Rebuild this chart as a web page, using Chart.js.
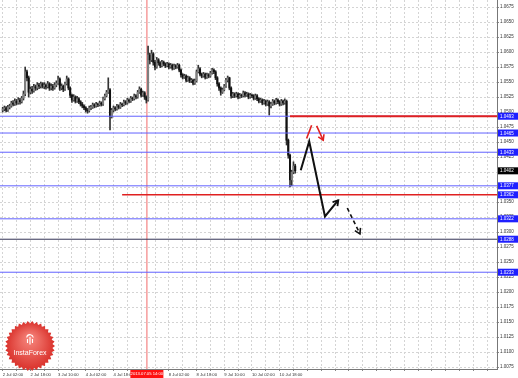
<!DOCTYPE html>
<html>
<head>
<meta charset="utf-8">
<script src="https://cdn.jsdelivr.net/npm/chart.js@4.4.1/dist/chart.umd.min.js"></script>
<style>
  html, body { margin: 0; padding: 0; background: #fff; }
  canvas { display: block; }
</style>
</head>
<body>
<canvas id="chart" width="518" height="378"></canvas>
<script>
// H1 candles, index 0 = 2 Jul 02:00
var opens = [
  1.0503,1.0505,1.0507,1.0503,1.0508,1.0510,1.0515,1.0513,1.0518,1.0515,
  1.0520,1.0517,1.0523,1.0530,1.0567,1.0557,1.0533,1.0538,1.0535,1.0542,
  1.0540,1.0545,1.0543,1.0547,1.0543,1.0545,1.0542,1.0547,1.0540,1.0543,
  1.0540,1.0545,1.0548,1.0555,1.0540,1.0543,1.0538,1.0547,1.0555,1.0540,
  1.0528,1.0520,1.0525,1.0518,1.0522,1.0517,1.0513,1.0510,1.0507,1.0503,
  1.0502,1.0507,1.0508,1.0512,1.0510,1.0513,1.0512,1.0515,1.0513,1.0522,
  1.0527,1.0533,1.0537,1.0492,1.0503,1.0507,1.0505,1.0510,1.0508,1.0513,
  1.0512,1.0517,1.0515,1.0520,1.0518,1.0523,1.0522,1.0527,1.0525,1.0533,
  1.0538,1.0528,1.0532,1.0525,1.0520,1.0595,1.0587,1.0597,1.0583,1.0575,
  1.0587,1.0582,1.0577,1.0583,1.0580,1.0577,1.0580,1.0575,1.0578,1.0573,
  1.0577,1.0575,1.0578,1.0570,1.0562,1.0558,1.0560,1.0553,1.0557,1.0552,
  1.0553,1.0548,1.0552,1.0567,1.0572,1.0563,1.0560,1.0563,1.0558,1.0562,
  1.0560,1.0565,1.0570,1.0567,1.0557,1.0547,1.0540,1.0533,1.0537,1.0543,
  1.0553,1.0557,1.0540,1.0527,1.0530,1.0527,1.0530,1.0525,1.0528,1.0527,
  1.0532,1.0528,1.0530,1.0525,1.0528,1.0527,1.0523,1.0527,1.0522,1.0518,
  1.0520,1.0515,1.0518,1.0513,1.0517,1.0510,1.0513,1.0518,1.0515,1.0520,
  1.0517,1.0513,1.0518,1.0515,1.0518,1.0453,1.0428,1.0387,1.0400,1.0410
];
var highs = [
  1.0508,1.0510,1.0509,1.0511,1.0513,1.0518,1.0519,1.0522,1.0521,1.0524,
  1.0523,1.0526,1.0535,1.0575,1.0570,1.0560,1.0542,1.0543,1.0546,1.0545,
  1.0549,1.0548,1.0550,1.0549,1.0549,1.0547,1.0551,1.0549,1.0547,1.0546,
  1.0549,1.0552,1.0560,1.0557,1.0547,1.0545,1.0550,1.0560,1.0557,1.0542,
  1.0530,1.0529,1.0527,1.0526,1.0524,1.0519,1.0516,1.0512,1.0509,1.0506,
  1.0510,1.0511,1.0515,1.0514,1.0516,1.0515,1.0518,1.0517,1.0525,1.0530,
  1.0536,1.0557,1.0539,1.0506,1.0510,1.0509,1.0513,1.0512,1.0516,1.0515,
  1.0520,1.0519,1.0523,1.0522,1.0526,1.0525,1.0530,1.0529,1.0536,1.0542,
  1.0540,1.0535,1.0534,1.0527,1.0610,1.0598,1.0603,1.0599,1.0586,1.0591,
  1.0589,1.0584,1.0586,1.0585,1.0582,1.0583,1.0582,1.0581,1.0580,1.0580,
  1.0579,1.0581,1.0580,1.0572,1.0564,1.0563,1.0562,1.0560,1.0559,1.0556,
  1.0555,1.0555,1.0570,1.0578,1.0574,1.0565,1.0566,1.0565,1.0565,1.0564,
  1.0568,1.0573,1.0572,1.0569,1.0559,1.0549,1.0542,1.0540,1.0546,1.0556,
  1.0560,1.0558,1.0542,1.0533,1.0532,1.0533,1.0532,1.0531,1.0530,1.0535,
  1.0534,1.0533,1.0532,1.0531,1.0530,1.0529,1.0530,1.0529,1.0524,1.0523,
  1.0522,1.0521,1.0520,1.0520,1.0519,1.0516,1.0521,1.0520,1.0523,1.0522,
  1.0519,1.0521,1.0520,1.0522,1.0520,1.0455,1.0430,1.0403,1.0417,1.0413
];
var lows = [
  1.0500,1.0502,1.0500,1.0501,1.0505,1.0508,1.0510,1.0511,1.0512,1.0513,
  1.0513,1.0515,1.0520,1.0527,1.0552,1.0525,1.0530,1.0531,1.0533,1.0536,
  1.0537,1.0539,1.0540,1.0540,1.0539,1.0538,1.0540,1.0536,1.0537,1.0536,
  1.0538,1.0542,1.0546,1.0536,1.0537,1.0534,1.0536,1.0545,1.0537,1.0524,
  1.0516,1.0518,1.0515,1.0516,1.0514,1.0510,1.0507,1.0504,1.0500,1.0498,
  1.0500,1.0504,1.0506,1.0507,1.0508,1.0509,1.0510,1.0510,1.0511,1.0520,
  1.0525,1.0531,1.0470,1.0490,1.0500,1.0502,1.0503,1.0505,1.0506,1.0509,
  1.0510,1.0512,1.0513,1.0515,1.0516,1.0519,1.0520,1.0522,1.0523,1.0531,
  1.0525,1.0526,1.0521,1.0515,1.0518,1.0580,1.0584,1.0578,1.0570,1.0573,
  1.0578,1.0574,1.0575,1.0577,1.0574,1.0575,1.0572,1.0573,1.0570,1.0571,
  1.0572,1.0573,1.0567,1.0558,1.0555,1.0556,1.0550,1.0551,1.0549,1.0549,
  1.0545,1.0546,1.0550,1.0565,1.0560,1.0557,1.0558,1.0555,1.0556,1.0557,
  1.0558,1.0563,1.0564,1.0554,1.0543,1.0536,1.0528,1.0531,1.0535,1.0541,
  1.0550,1.0537,1.0523,1.0524,1.0524,1.0525,1.0522,1.0523,1.0524,1.0525,
  1.0525,1.0526,1.0522,1.0523,1.0524,1.0520,1.0521,1.0519,1.0515,1.0516,
  1.0512,1.0513,1.0510,1.0511,1.0495,1.0507,1.0511,1.0512,1.0513,1.0514,
  1.0510,1.0511,1.0512,1.0513,1.0445,1.0423,1.0375,1.0377,1.0397,1.0398
];
var closes = [
  1.0505,1.0507,1.0503,1.0508,1.0510,1.0515,1.0513,1.0518,1.0515,1.0520,
  1.0517,1.0523,1.0530,1.0567,1.0557,1.0533,1.0538,1.0535,1.0542,1.0540,
  1.0545,1.0543,1.0547,1.0543,1.0545,1.0542,1.0547,1.0540,1.0543,1.0540,
  1.0545,1.0548,1.0555,1.0540,1.0543,1.0538,1.0547,1.0555,1.0540,1.0528,
  1.0520,1.0525,1.0518,1.0522,1.0517,1.0513,1.0510,1.0507,1.0503,1.0502,
  1.0507,1.0508,1.0512,1.0510,1.0513,1.0512,1.0515,1.0513,1.0522,1.0527,
  1.0533,1.0537,1.0492,1.0503,1.0507,1.0505,1.0510,1.0508,1.0513,1.0512,
  1.0517,1.0515,1.0520,1.0518,1.0523,1.0522,1.0527,1.0525,1.0533,1.0538,
  1.0528,1.0532,1.0525,1.0520,1.0595,1.0587,1.0597,1.0583,1.0575,1.0587,
  1.0582,1.0577,1.0583,1.0580,1.0577,1.0580,1.0575,1.0578,1.0573,1.0577,
  1.0575,1.0578,1.0570,1.0562,1.0558,1.0560,1.0553,1.0557,1.0552,1.0553,
  1.0548,1.0552,1.0567,1.0572,1.0563,1.0560,1.0563,1.0558,1.0562,1.0560,
  1.0565,1.0570,1.0567,1.0557,1.0547,1.0540,1.0533,1.0537,1.0543,1.0553,
  1.0557,1.0540,1.0527,1.0530,1.0527,1.0530,1.0525,1.0528,1.0527,1.0532,
  1.0528,1.0530,1.0525,1.0528,1.0527,1.0523,1.0527,1.0522,1.0518,1.0520,
  1.0515,1.0518,1.0513,1.0517,1.0510,1.0513,1.0518,1.0515,1.0520,1.0517,
  1.0513,1.0518,1.0515,1.0518,1.0453,1.0428,1.0387,1.0400,1.0410,1.0402
];

// time axis (hour index) and price axis
var xMin = -1.56, xMax = 285.6;
var yMin = 1.00717, yMax = 1.06867;
var gridHours = [0,8,16,24,32,40,48,56,64,72,80,88,96,104,112,120,128,136,144,152,160,
  168,176,184,192,200,208,216,224,232,240,248,256,264,272,280];
var timeLabelIdx = [0,16,32,48,64,80,96,112,128,144,160];
var timeLabels = ['2 Jul 02:00','2 Jul 18:00','3 Jul 10:00','4 Jul 02:00','4 Jul 18:00',
  '5 Jul 10:00','8 Jul 02:00','8 Jul 18:00','9 Jul 10:00','10 Jul 02:00','10 Jul 18:00'];
var priceTicks = [1.0075,1.0100,1.0125,1.0150,1.0175,1.0200,1.0225,1.0250,1.0275,1.0300,
  1.0325,1.0350,1.0375,1.0400,1.0425,1.0450,1.0475,1.0500,1.0525,1.0550,1.0575,1.0600,
  1.0625,1.0650,1.0675];

// horizontal levels
var blueLevels = [1.0493,1.0465,1.0433,1.0377,1.0322,1.0233];
var darkLevels = [1.0288];
var redLevels = [1.0493,1.0362];
var redLevelFrom = [166,69];
var boxLevels = [1.0493,1.0465,1.0433,1.0377,1.0362,1.0322,1.0288,1.0233];
var lastPrice = 1.0402;
var markerIdx = 83.3;
var markerLabel = '2013.07.05 14:00';

// hand drawn forecast
var blackPath = [[172.2,1.0403],[177.1,1.0451],[186.2,1.0326],[193.9,1.0353]];
var blackDash = [[199.1,1.0340],[206.4,1.0297]];
var redStroke = [[175.6,1.0456],[178.5,1.0478]];
var redArrow = [[181.4,1.0477],[185.2,1.0453]];

var wicks = [], bodies = [], bodyColors = [];
for (var i = 0; i < closes.length; i++) {
  wicks.push({x: i, y: [lows[i], highs[i]]});
  bodies.push({x: i, y: [opens[i], closes[i]]});
  bodyColors.push(closes[i] >= opens[i] ? '#808080' : '#111');
}

function pts(arr) { return arr.map(function (p) { return {x: p[0], y: p[1]}; }); }
function lineSet(data, color, width, dash, order) {
  return {type: 'line', data: data, borderColor: color, borderWidth: width,
    borderDash: dash || [], pointRadius: 0, fill: false, tension: 0, order: order};
}

var datasets = [
  {type: 'bar', data: wicks, backgroundColor: '#333', barThickness: 1, grouped: false, order: 5},
  {type: 'bar', data: bodies, backgroundColor: bodyColors, barThickness: 1.4, grouped: false, order: 4}
];
blueLevels.forEach(function (v) {
  datasets.push(lineSet([{x: xMin, y: v}, {x: xMax, y: v}], '#6262ff', 1, null, 3));
});
darkLevels.forEach(function (v) {
  datasets.push(lineSet([{x: xMin, y: v}, {x: xMax, y: v}], '#333355', 1, null, 3));
});
redLevels.forEach(function (v, k) {
  datasets.push(lineSet([{x: redLevelFrom[k], y: v}, {x: xMax, y: v}], '#e02020', k === 0 ? 2 : 1.5, null, 2));
});
datasets.push(lineSet([{x: markerIdx, y: yMin}, {x: markerIdx, y: yMax}], 'rgba(240,90,90,0.6)', 1.5, null, 6));
datasets.push(lineSet(pts(blackPath), '#111', 2, null, 1));
datasets.push(lineSet(pts(blackDash), '#111', 1.6, [4, 3], 1));
datasets.push(lineSet(pts(redStroke), '#e02020', 1.6, null, 1));
datasets.push(lineSet(pts(redArrow), '#e02020', 1.6, null, 1));

var arrowHeads = [
  {path: blackPath, color: '#111', width: 1.8},
  {path: blackDash, color: '#111', width: 1.6},
  {path: redArrow, color: '#e02020', width: 1.6}
];

function drawHead(ctx, x0, y0, x1, y1, len) {
  var a = Math.atan2(y1 - y0, x1 - x0);
  ctx.beginPath();
  ctx.moveTo(x1 - len * Math.cos(a - 0.55), y1 - len * Math.sin(a - 0.55));
  ctx.lineTo(x1, y1);
  ctx.lineTo(x1 - len * Math.cos(a + 0.55), y1 - len * Math.sin(a + 0.55));
  ctx.stroke();
}

function drawBadge(ctx, cx, cy, r) {
  var n = 34;
  ctx.save();
  ctx.beginPath();
  for (var k = 0; k < n * 2; k++) {
    var a = k * Math.PI / n;
    var rr = k % 2 ? r * 0.9 : r;
    ctx.lineTo(cx + rr * Math.cos(a), cy + rr * Math.sin(a));
  }
  ctx.closePath();
  var g = ctx.createRadialGradient(cx, cy - 8, 2, cx, cy, r);
  g.addColorStop(0, '#f5837a');
  g.addColorStop(1, '#d9302a');
  ctx.fillStyle = g;
  ctx.fill();
  ctx.strokeStyle = '#fff';
  ctx.fillStyle = '#fff';
  ctx.lineWidth = 1.1;
  ctx.beginPath();
  ctx.arc(cx, cy - 8, 3.3, Math.PI * 1.05, Math.PI * 1.95);
  ctx.stroke();
  ctx.beginPath();
  ctx.moveTo(cx, cy - 9); ctx.lineTo(cx, cy - 1.5);
  ctx.moveTo(cx - 2.5, cy - 7); ctx.lineTo(cx - 2.5, cy - 3);
  ctx.moveTo(cx + 2.5, cy - 7); ctx.lineTo(cx + 2.5, cy - 3);
  ctx.stroke();
  ctx.font = '7px "Liberation Sans", Arial, sans-serif';
  ctx.textAlign = 'center';
  ctx.textBaseline = 'middle';
  ctx.fillText('InstaForex', cx, cy + 7);
  ctx.restore();
}

var overlay = {
  id: 'overlay',
  afterDatasetsDraw: function (chart) {
    var ctx = chart.ctx, xs = chart.scales.x, ys = chart.scales.y;
    ctx.save();
    arrowHeads.forEach(function (h) {
      var p = h.path, a = p[p.length - 2], b = p[p.length - 1];
      ctx.strokeStyle = h.color;
      ctx.lineWidth = h.width;
      ctx.setLineDash([]);
      drawHead(ctx, xs.getPixelForValue(a[0]), ys.getPixelForValue(a[1]),
        xs.getPixelForValue(b[0]), ys.getPixelForValue(b[1]), 6);
    });
    ctx.restore();
    drawBadge(ctx, 30, 346, 25);
  },
  afterDraw: function (chart) {
    var ctx = chart.ctx, xs = chart.scales.x, ys = chart.scales.y, area = chart.chartArea;
    ctx.save();
    ctx.font = '4.5px "Liberation Sans", Arial, sans-serif';
    ctx.textBaseline = 'middle';
    ctx.textAlign = 'left';
    function box(v, color) {
      var y = ys.getPixelForValue(v);
      ctx.fillStyle = color;
      ctx.fillRect(area.right + 1, y - 3.5, 20, 7);
      ctx.fillStyle = '#fff';
      ctx.fillText(v.toFixed(4), area.right + 3, y + 0.3);
    }
    boxLevels.forEach(function (v) { box(v, '#1f1fff'); });
    box(lastPrice, '#000');
    var mx = xs.getPixelForValue(markerIdx);
    ctx.fillStyle = '#ff1010';
    ctx.fillRect(mx - 16.5, area.bottom + 1, 33, 8);
    ctx.fillStyle = '#fff';
    ctx.textAlign = 'center';
    ctx.font = '4.2px "Liberation Sans Narrow", "Liberation Sans", Arial, sans-serif';
    ctx.fillText(markerLabel, mx, area.bottom + 5);
    ctx.restore();
  }
};

new Chart(document.getElementById('chart'), {
  type: 'bar',
  data: {datasets: datasets},
  plugins: [overlay],
  options: {
    responsive: false,
    animation: false,
    devicePixelRatio: 1,
    layout: {padding: 0, autoPadding: false},
    plugins: {legend: {display: false}, tooltip: {enabled: false}},
    events: [],
    scales: {
      x: {
        type: 'linear', min: xMin, max: xMax, offset: false,
        afterBuildTicks: function (s) { s.ticks = gridHours.map(function (v) { return {value: v}; }); },
        afterFit: function (s) { s.height = 9; s.paddingLeft = 0; s.paddingRight = 0; },
        grid: {color: '#d4d4d4', tickLength: 2, offset: false, tickColor: '#888'},
        border: {display: true, color: '#777', width: 1, dash: [2, 2]},
        ticks: {
          autoSkip: false, maxRotation: 0, minRotation: 0, align: 'start', padding: 1,
          color: '#333', font: {family: '"Liberation Sans Narrow", "Liberation Sans", Arial', size: 4.2},
          callback: function (v) { var k = timeLabelIdx.indexOf(v); return k < 0 ? '' : timeLabels[k]; }
        }
      },
      y: {
        type: 'linear', position: 'right', min: yMin, max: yMax,
        afterBuildTicks: function (s) { s.ticks = priceTicks.map(function (v) { return {value: v}; }); },
        afterFit: function (s) { s.width = 21; s.paddingTop = 0; s.paddingBottom = 0; },
        grid: {color: '#d4d4d4', tickLength: 2, tickColor: '#888'},
        border: {display: true, color: '#777', width: 1, dash: [2, 2]},
        ticks: {
          padding: 1, color: '#333',
          font: {family: '"Liberation Sans", Arial', size: 4.5},
          callback: function (v) { return v.toFixed(4); }
        }
      }
    }
  }
});
</script>
</body>
</html>
